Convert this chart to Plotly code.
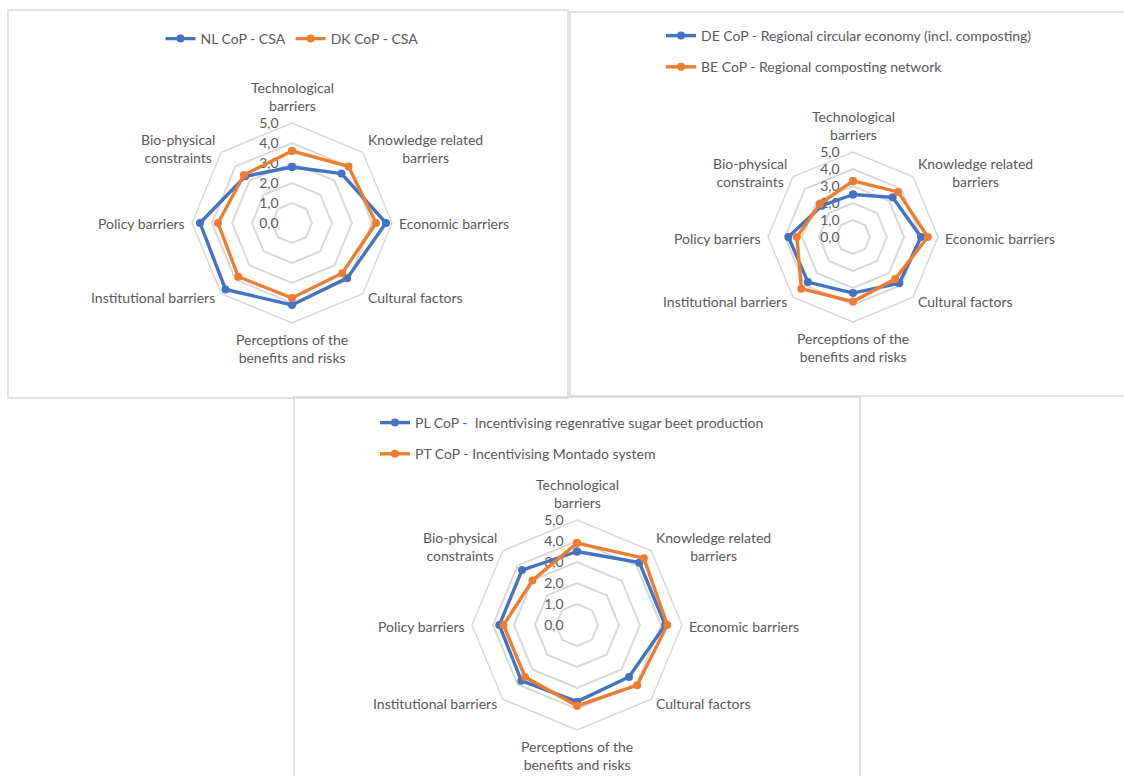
import math
import plotly.graph_objects as go

# Barrier categories shown around each radar
categories = [
    "Technological<br>barriers",
    "Knowledge related<br>barriers",
    "Economic barriers",
    "Cultural factors",
    "Perceptions of the<br>benefits and risks",
    "Institutional barriers",
    "Policy barriers",
    "Bio-physical<br>constraints",
]

# Scores per community of practice (0-5 scale)
nl_csa = [2.8, 3.5, 4.7, 3.9, 4.1, 4.7, 4.6, 3.3]
dk_csa = [3.6, 4.0, 4.2, 3.55, 3.75, 3.8, 3.7, 3.4]

de_circular = [2.5, 3.3, 4.0, 3.85, 3.3, 3.75, 3.8, 2.6]
be_composting = [3.3, 3.75, 4.4, 3.5, 3.8, 4.3, 3.3, 2.75]

pl_sugar_beet = [3.5, 4.2, 4.2, 3.5, 3.65, 3.75, 3.7, 3.7]
pt_montado = [3.9, 4.5, 4.3, 4.05, 3.85, 3.5, 3.5, 3.0]

series_names = [
    ("NL CoP - CSA", "DK CoP - CSA"),
    ("DE CoP - Regional circular economy (incl. composting)", "BE CoP - Regional composting network"),
    ("PL CoP -  Incentivising regenrative sugar beet production", "PT CoP - Incentivising Montado system"),
]
series_values = [(nl_csa, dk_csa), (de_circular, be_composting), (pl_sugar_beet, pt_montado)]

W, H = 1124, 776
BLUE = "#4472C4"
ORANGE = "#ED7D31"
GRID = "#d9d9d9"
TEXT = "#595959"
FONT = "Lato"
FS = 14

fig = go.Figure()

polar_ids = ["polar", "polar2", "polar3"]
legend_ids = ["legend", "legend2", "legend3"]
colors = [BLUE, ORANGE]

for i, (names, vals) in enumerate(zip(series_names, series_values)):
    for j, (name, v) in enumerate(zip(names, vals)):
        fig.add_trace(go.Scatterpolar(
            r=list(v) + [v[0]],
            theta=categories + [categories[0]],
            mode="lines+markers",
            name=name,
            line=dict(color=colors[j], width=3.4),
            marker=dict(color=colors[j], size=8),
            subplot=polar_ids[i],
            legend=legend_ids[i],
            legendgroup=f"g{i}{j}",
            hoverinfo="skip",
        ))

# Panel centres and radii in pixels
centres = [(292, 223, 100), (853, 237, 85), (577, 625, 105)]


def polar_layout(cx, cy, r):
    return dict(
        domain=dict(x=[(cx - r) / W, (cx + r) / W],
                    y=[(H - cy - r) / H, (H - cy + r) / H]),
        gridshape="linear",
        bgcolor="white",
        angularaxis=dict(
            rotation=90, direction="clockwise", showgrid=False,
            linecolor=GRID, linewidth=1.5, ticks="", showticklabels=False,
        ),
        radialaxis=dict(
            range=[0, 5], dtick=1, tick0=0, tickformat=".1f",
            showline=False, gridcolor=GRID, gridwidth=1.5,
            angle=90, side="counterclockwise", tickangle=90,
            ticks="outside", ticklen=8, tickcolor="rgba(0,0,0,0)",
            layer="below traces",
            tickfont=dict(family=FONT, size=FS, color=TEXT),
        ),
    )


layout = dict(
    width=W, height=H, autosize=False,
    margin=dict(l=0, r=0, t=0, b=0),
    paper_bgcolor="white",
    separators=",.",
    font=dict(family=FONT, size=FS, color=TEXT),
    showlegend=True,
)
for pid, (cx, cy, r) in zip(polar_ids, centres):
    layout[pid] = polar_layout(cx, cy, r)

legend_font = dict(family=FONT, size=FS, color=TEXT)
layout["legend"] = dict(
    orientation="h", x=292 / W, y=1 - 39 / H, xanchor="center", yanchor="middle",
    font=legend_font, bgcolor="rgba(0,0,0,0)", itemwidth=30,
)
layout["legend2"] = dict(
    orientation="v", x=661 / W, y=1 - 20 / H, xanchor="left", yanchor="top",
    font=legend_font, bgcolor="rgba(0,0,0,0)", tracegroupgap=10, itemwidth=30,
)
layout["legend3"] = dict(
    orientation="v", x=375 / W, y=1 - 407 / H, xanchor="left", yanchor="top",
    font=legend_font, bgcolor="rgba(0,0,0,0)", tracegroupgap=10, itemwidth=30,
)

# Category labels placed just outside each radar vertex
annotations = []
n = len(categories)
for cx, cy, r in centres:
    for k, label in enumerate(categories):
        ang = math.radians(90 - 360 * k / n)
        vx = cx + r * math.cos(ang)
        vy = cy - r * math.sin(ang)
        c, s = math.cos(ang), math.sin(ang)
        if abs(c) < 1e-6:
            xa = "center"
            if s > 0:
                ya, px, py = "bottom", vx, vy - 7
            else:
                ya, px, py = "top", vx, vy + 6
        else:
            xa = "left" if c > 0 else "right"
            ya = "middle"
            if abs(s) < 1e-6:
                px, py = vx + (5 if c > 0 else -5), vy + 1
            else:
                px = vx + (3 if c > 0 else -4)
                py = vy + (-4 if s > 0 else 4)
        annotations.append(dict(
            text=label, x=px / W, y=1 - py / H, xref="paper", yref="paper",
            xanchor=xa, yanchor=ya, align="center", showarrow=False,
            font=dict(family=FONT, size=FS, color=TEXT),
        ))
layout["annotations"] = annotations

fig.update_layout(**layout)

# Panel frames
frames = [(8, 10, 568, 398), (570, 12, 1130, 396), (294, 397, 860, 790)]
for x0, y0, x1, y1 in frames:
    fig.add_shape(type="rect", xref="paper", yref="paper",
                  x0=x0 / W, x1=x1 / W, y0=1 - y0 / H, y1=1 - y1 / H,
                  line=dict(color=GRID, width=1.5), layer="below")

fig.write_html("out.html")
